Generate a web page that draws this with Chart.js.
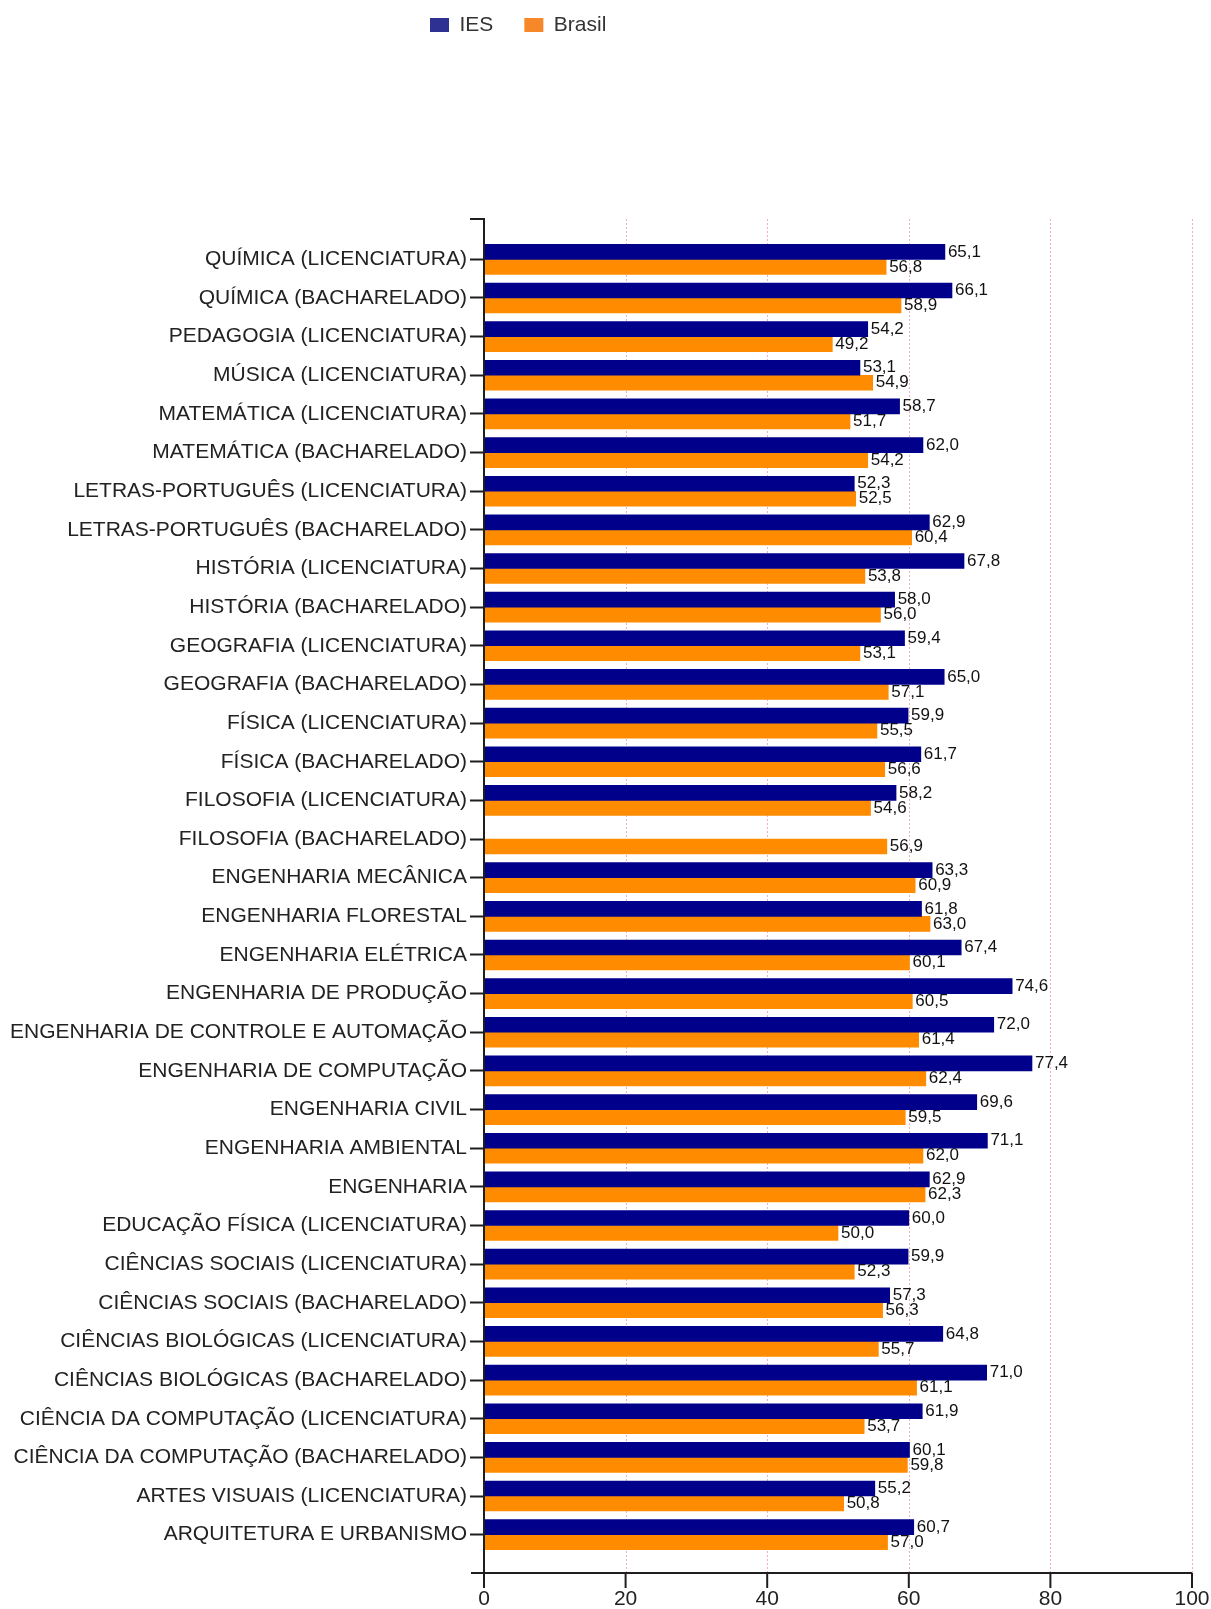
<!DOCTYPE html>
<html>
<head>
<meta charset="utf-8">
<script src="https://cdn.jsdelivr.net/npm/chart.js@4.4.1/dist/chart.umd.min.js"></script>
<style>
  html, body { margin: 0; padding: 0; background: #fff; }
  canvas { display: block; }
</style>
</head>
<body>
<canvas id="chart" width="1211" height="1609"></canvas>
<script>
const categories = [
    'QUÍMICA (LICENCIATURA)',
    'QUÍMICA (BACHARELADO)',
    'PEDAGOGIA (LICENCIATURA)',
    'MÚSICA (LICENCIATURA)',
    'MATEMÁTICA (LICENCIATURA)',
    'MATEMÁTICA (BACHARELADO)',
    'LETRAS-PORTUGUÊS (LICENCIATURA)',
    'LETRAS-PORTUGUÊS (BACHARELADO)',
    'HISTÓRIA (LICENCIATURA)',
    'HISTÓRIA (BACHARELADO)',
    'GEOGRAFIA (LICENCIATURA)',
    'GEOGRAFIA (BACHARELADO)',
    'FÍSICA (LICENCIATURA)',
    'FÍSICA (BACHARELADO)',
    'FILOSOFIA (LICENCIATURA)',
    'FILOSOFIA (BACHARELADO)',
    'ENGENHARIA MECÂNICA',
    'ENGENHARIA FLORESTAL',
    'ENGENHARIA ELÉTRICA',
    'ENGENHARIA DE PRODUÇÃO',
    'ENGENHARIA DE CONTROLE E AUTOMAÇÃO',
    'ENGENHARIA DE COMPUTAÇÃO',
    'ENGENHARIA CIVIL',
    'ENGENHARIA AMBIENTAL',
    'ENGENHARIA',
    'EDUCAÇÃO FÍSICA (LICENCIATURA)',
    'CIÊNCIAS SOCIAIS (LICENCIATURA)',
    'CIÊNCIAS SOCIAIS (BACHARELADO)',
    'CIÊNCIAS BIOLÓGICAS (LICENCIATURA)',
    'CIÊNCIAS BIOLÓGICAS (BACHARELADO)',
    'CIÊNCIA DA COMPUTAÇÃO (LICENCIATURA)',
    'CIÊNCIA DA COMPUTAÇÃO (BACHARELADO)',
    'ARTES VISUAIS (LICENCIATURA)',
    'ARQUITETURA E URBANISMO'
];

const iesValues = [
    65.1, 66.1, 54.2, 53.1, 58.7, 62.0, 52.3, 62.9, 67.8, 58.0,
    59.4, 65.0, 59.9, 61.7, 58.2, null, 63.3, 61.8, 67.4, 74.6,
    72.0, 77.4, 69.6, 71.1, 62.9, 60.0, 59.9, 57.3, 64.8, 71.0,
    61.9, 60.1, 55.2, 60.7
];

const brasilValues = [
    56.8, 58.9, 49.2, 54.9, 51.7, 54.2, 52.5, 60.4, 53.8, 56.0,
    53.1, 57.1, 55.5, 56.6, 54.6, 56.9, 60.9, 63.0, 60.1, 60.5,
    61.4, 62.4, 59.5, 62.0, 62.3, 50.0, 52.3, 56.3, 55.7, 61.1,
    53.7, 59.8, 50.8, 57.0
];

const xTicks = [0, 20, 40, 60, 80, 100];

const FONT = '"Liberation Sans", Arial, sans-serif';
const AXIS_COLOR = '#1e1e1e';

// pink dotted gridlines behind the bars
const gridPlugin = {
    id: 'gridPlugin',
    beforeDatasetsDraw(chart) {
        const { ctx, chartArea, scales: { x } } = chart;
        const top = chartArea.top - 21;
        const bottom = chartArea.bottom + 19;
        ctx.save();
        ctx.strokeStyle = '#f5a9c2';
        ctx.lineWidth = 1;
        ctx.setLineDash([2, 2]);
        xTicks.forEach(v => {
            if (v === 0) return;
            const px = Math.round(x.getPixelForValue(v)) + 0.5;
            ctx.beginPath();
            ctx.moveTo(px, top);
            ctx.lineTo(px, bottom);
            ctx.stroke();
        });
        ctx.restore();
    }
};

// axis lines with outer ticks, drawn a little past the plot area
const axesPlugin = {
    id: 'axesPlugin',
    afterDatasetsDraw(chart) {
        const { ctx, chartArea, scales: { x } } = chart;
        const top = chartArea.top - 21;
        const bottom = chartArea.bottom + 19;
        const left = x.getPixelForValue(0);
        const right = x.getPixelForValue(100);
        ctx.save();
        ctx.strokeStyle = AXIS_COLOR;
        ctx.lineWidth = 2;
        ctx.beginPath();
        ctx.moveTo(left - 14, top);
        ctx.lineTo(left, top);
        ctx.lineTo(left, bottom);
        ctx.moveTo(left - 13, bottom);
        ctx.lineTo(right, bottom);
        xTicks.forEach(v => {
            const px = x.getPixelForValue(v);
            ctx.moveTo(px, bottom);
            ctx.lineTo(px, bottom + 15);
        });
        ctx.stroke();
        ctx.restore();
    }
};

// value labels at the end of each bar
const valueLabels = {
    id: 'valueLabels',
    afterDatasetsDraw(chart) {
        const { ctx } = chart;
        ctx.save();
        ctx.font = '17px ' + FONT;
        ctx.fillStyle = '#111';
        ctx.textAlign = 'left';
        ctx.textBaseline = 'middle';
        chart.data.datasets.forEach((ds, i) => {
            const meta = chart.getDatasetMeta(i);
            meta.data.forEach((bar, j) => {
                const v = ds.data[j];
                if (v === null || v === undefined) return;
                ctx.fillText(v.toFixed(1).replace('.', ','), bar.x + 3, bar.y);
            });
        });
        ctx.restore();
    }
};

// legend sits at the very top, a bit left of centre
const legendPlace = {
    id: 'legendPlace',
    afterLayout(chart) {
        const lg = chart.legend;
        if (!lg || !lg.lineWidths) return;
        const pad = lg.options.labels.padding;
        const curX = (lg.left + pad + lg.right - lg.lineWidths[0]) / 2;
        const dx = 430 - curX;
        lg.left += dx;
        lg.right += dx;
        const dy = -16.5 - lg.top;
        lg.top += dy;
        lg.bottom += dy;
    }
};

const legendColors = ['#2e3192', '#f7882a'];

const ctx = document.getElementById('chart').getContext('2d');
const chart = new Chart(ctx, {
    type: 'bar',
    data: {
        labels: categories,
        datasets: [
            {
                label: 'IES',
                data: iesValues,
                backgroundColor: '#00008b',
                barThickness: 15
            },
            {
                label: 'Brasil',
                data: brasilValues,
                backgroundColor: '#ff8c00',
                barThickness: 15
            }
        ]
    },
    options: {
        indexAxis: 'y',
        responsive: false,
        animation: false,
        layout: { padding: { top: 177, right: 19, bottom: 0, left: 0 } },
        plugins: {
            tooltip: { enabled: false },
            legend: {
                position: 'top',
                labels: {
                    boxWidth: 19,
                    boxHeight: 14,
                    padding: 31,
                    color: '#333',
                    font: { family: FONT, size: 21 },
                    generateLabels(c) {
                        const items = Chart.defaults.plugins.legend.labels.generateLabels(c);
                        items.forEach((it, k) => {
                            it.fillStyle = legendColors[k];
                            it.strokeStyle = legendColors[k];
                            it.lineWidth = 0;
                        });
                        return items;
                    }
                }
            }
        },
        scales: {
            x: {
                min: 0,
                max: 100,
                grid: { display: false },
                border: { display: false },
                ticks: {
                    stepSize: 20,
                    padding: 27,
                    color: '#222',
                    font: { family: FONT, size: 21, lineHeight: 1 }
                },
                afterFit(scale) {
                    scale.height = 55;
                    scale.paddingLeft = 0;
                    scale.paddingRight = 0;
                }
            },
            y: {
                grid: {
                    display: true,
                    drawOnChartArea: false,
                    drawTicks: true,
                    offset: false,
                    tickLength: 14,
                    tickWidth: 2,
                    tickColor: AXIS_COLOR
                },
                border: { display: false },
                ticks: {
                    autoSkip: false,
                    padding: 3,
                    color: '#222',
                    font: { family: FONT, size: 21 }
                },
                afterFit(scale) { scale.width = 484; }
            }
        }
    },
    plugins: [gridPlugin, axesPlugin, valueLabels, legendPlace]
});

// pin the plot area top to where the reference starts its categories
const shift = 240 - chart.chartArea.top;
if (Math.abs(shift) > 0.1) {
    chart.options.layout.padding.top += shift;
    chart.update();
}
</script>
</body>
</html>
